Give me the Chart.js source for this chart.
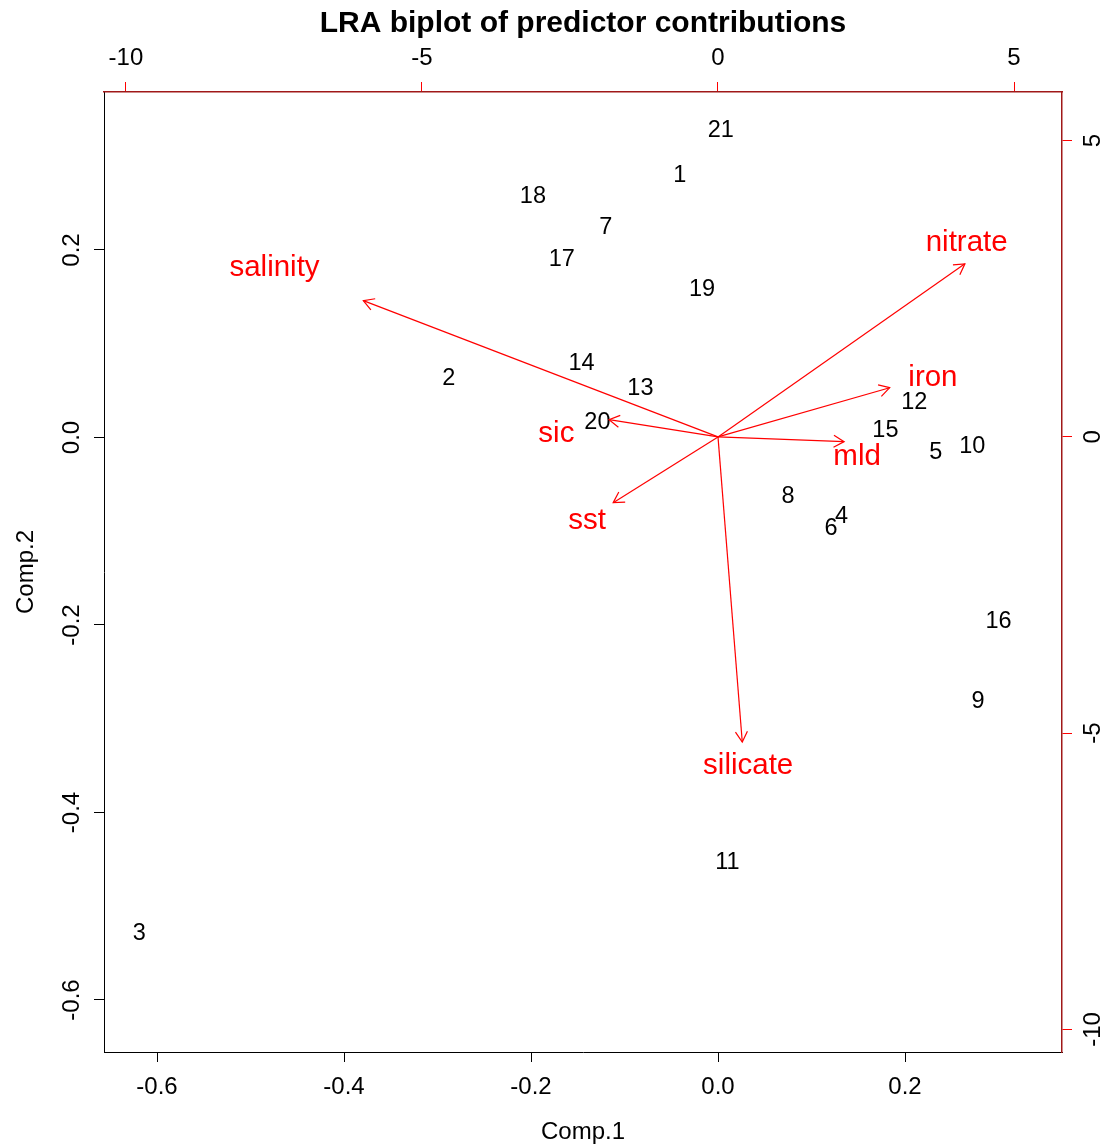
<!DOCTYPE html>
<html lang="en">
<head>
  <meta charset="UTF-8" />
  <title>LRA biplot of predictor contributions</title>
  <script src="https://cdn.jsdelivr.net/npm/chart.js"></script>
  <style>
    html, body { margin: 0; padding: 0; background: #fff; }
  </style>
</head>
<body>
  <canvas id="biplot" width="1116" height="1147"></canvas>

  <script>
    // sample scores (Comp.1 / Comp.2), labelled 1..21
    const sampleLabels = ['1','2','3','4','5','6','7','8','9','10','11','12','13','14','15','16','17','18','19','20','21'];
    const comp1 = [-0.041, -0.288, -0.619, 0.132, 0.233, 0.121, -0.120, 0.075, 0.278, 0.272, 0.010,
                   0.210, -0.083, -0.146, 0.179, 0.300, -0.167, -0.198, -0.017, -0.129, 0.003];
    const comp2 = [0.280, 0.064, -0.528, -0.083, -0.015, -0.096, 0.225, -0.062, -0.281, -0.009, -0.452,
                   0.038, 0.053, 0.080, 0.008, -0.195, 0.191, 0.258, 0.159, 0.017, 0.328];

    // predictor loadings (top / right scale)
    const predictors = ['salinity', 'nitrate', 'iron', 'mld', 'sic', 'sst', 'silicate'];
    const arrowX = [-5.99, 4.17, 2.90, 2.13, -1.84, -1.77, 0.41];
    const arrowY = [2.30, 2.92, 0.83, -0.08, 0.29, -1.11, -5.15];
    const predLabelX = [-7.49, 4.20, 3.63, 2.35, -2.73, -2.21, 0.51];
    const predLabelY = [2.87, 3.29, 1.01, -0.32, 0.07, -1.40, -5.54];

    const comp1Ticks = [-0.6, -0.4, -0.2, 0.0, 0.2];
    const comp2Ticks = [-0.6, -0.4, -0.2, 0.0, 0.2];
    const loadTicks = [-10, -5, 0, 5];

    const FONT = '"Liberation Sans", Arial, sans-serif';
    const RED = '#ff0000';
    const AXIS_RED = '#a01818';

    const datasets = [{
      label: 'samples',
      data: comp1.map((x, i) => ({ x: x, y: comp2[i] })),
      pointRadius: 0,
      xAxisID: 'x',
      yAxisID: 'y'
    }];
    predictors.forEach((p, i) => {
      datasets.push({
        label: p,
        data: [{ x: 0, y: 0 }, { x: arrowX[i], y: arrowY[i] }],
        showLine: true,
        borderColor: RED,
        borderWidth: 1.2,
        pointRadius: 0,
        xAxisID: 'x2',
        yAxisID: 'y2'
      });
    });
    datasets.push({
      label: 'predictor labels',
      data: predLabelX.map((x, i) => ({ x: x, y: predLabelY[i] })),
      pointRadius: 0,
      xAxisID: 'x2',
      yAxisID: 'y2'
    });

    const biplotText = {
      id: 'biplotText',
      afterDatasetsDraw(chart) {
        const ctx = chart.ctx;
        ctx.save();
        ctx.textAlign = 'center';
        ctx.textBaseline = 'middle';

        // sample numbers
        ctx.fillStyle = '#000';
        ctx.font = '23.5px ' + FONT;
        chart.getDatasetMeta(0).data.forEach((pt, i) => {
          ctx.fillText(sampleLabels[i], pt.x, pt.y + 1);
        });

        // arrow heads
        ctx.strokeStyle = RED;
        ctx.lineWidth = 1.2;
        predictors.forEach((p, i) => {
          const pts = chart.getDatasetMeta(i + 1).data;
          const a = pts[0], b = pts[1];
          const ang = Math.atan2(b.y - a.y, b.x - a.x);
          const len = 12;
          ctx.beginPath();
          ctx.moveTo(b.x - len * Math.cos(ang - Math.PI / 6), b.y - len * Math.sin(ang - Math.PI / 6));
          ctx.lineTo(b.x, b.y);
          ctx.lineTo(b.x - len * Math.cos(ang + Math.PI / 6), b.y - len * Math.sin(ang + Math.PI / 6));
          ctx.stroke();
        });

        // predictor names
        ctx.fillStyle = RED;
        ctx.font = '29.5px ' + FONT;
        chart.getDatasetMeta(predictors.length + 1).data.forEach((pt, i) => {
          ctx.fillText(predictors[i], pt.x, pt.y + 1);
        });
        ctx.restore();
      },
      afterDraw(chart) {
        // rotated tick labels on the vertical axes
        const ctx = chart.ctx;
        const y = chart.scales.y, y2 = chart.scales.y2;
        ctx.save();
        ctx.fillStyle = '#000';
        ctx.font = '24px ' + FONT;
        ctx.textAlign = 'center';
        ctx.textBaseline = 'middle';
        comp2Ticks.forEach(v => {
          ctx.save();
          ctx.translate(y.right - 32, y.getPixelForValue(v));
          ctx.rotate(-Math.PI / 2);
          ctx.fillText(v.toFixed(1), 0, 0);
          ctx.restore();
        });
        loadTicks.forEach(v => {
          ctx.save();
          ctx.translate(y2.left + 31, y2.getPixelForValue(v));
          ctx.rotate(-Math.PI / 2);
          ctx.fillText(String(v), 0, 0);
          ctx.restore();
        });
        ctx.restore();
      }
    };

    function gridOpts(color) {
      return { drawOnChartArea: false, drawTicks: true, tickLength: 10, tickColor: color, lineWidth: 1 };
    }

    new Chart(document.getElementById('biplot'), {
      type: 'scatter',
      data: { datasets: datasets },
      options: {
        responsive: false,
        animation: false,
        devicePixelRatio: 1,
        layout: { padding: 0 },
        plugins: {
          legend: { display: false },
          tooltip: { enabled: false },
          title: {
            display: true,
            fullSize: false,
            text: 'LRA biplot of predictor contributions',
            color: '#000',
            font: { family: FONT, size: 30, weight: 'bold', lineHeight: 1.2 },
            padding: { top: 6, bottom: 0 }
          }
        },
        scales: {
          x: {
            type: 'linear',
            position: 'bottom',
            min: -0.6567,
            max: 0.3679,
            afterBuildTicks: s => { s.ticks = comp1Ticks.map(v => ({ value: v })); },
            afterFit: s => { s.height = 95; },
            grid: gridOpts('#000'),
            border: { display: true, color: '#000', width: 1 },
            ticks: {
              color: '#000',
              font: { family: FONT, size: 24 },
              padding: 11,
              maxRotation: 0,
              callback: v => v.toFixed(1)
            },
            title: {
              display: true,
              text: 'Comp.1',
              color: '#000',
              font: { family: FONT, size: 24 },
              padding: { top: 0, bottom: 0 }
            }
          },
          y: {
            type: 'linear',
            position: 'left',
            min: -0.6555,
            max: 0.3685,
            afterBuildTicks: s => { s.ticks = comp2Ticks.map(v => ({ value: v })); },
            afterFit: s => { s.width = 104; },
            grid: gridOpts('#000'),
            border: { display: true, color: '#000', width: 1 },
            ticks: { display: false },
            title: {
              display: true,
              text: 'Comp.2',
              color: '#000',
              font: { family: FONT, size: 24 },
              padding: { top: 12, bottom: 0 }
            }
          },
          x2: {
            type: 'linear',
            position: 'top',
            min: -10.37,
            max: 5.81,
            afterBuildTicks: s => { s.ticks = loadTicks.map(v => ({ value: v })); },
            afterFit: s => { s.height = 50; },
            grid: gridOpts(RED),
            border: { display: true, color: AXIS_RED, width: 1.5 },
            ticks: {
              color: '#000',
              font: { family: FONT, size: 24 },
              padding: 9,
              maxRotation: 0,
              callback: v => String(v)
            }
          },
          y2: {
            type: 'linear',
            position: 'right',
            min: -10.38,
            max: 5.82,
            afterBuildTicks: s => { s.ticks = loadTicks.map(v => ({ value: v })); },
            afterFit: s => { s.width = 54; },
            grid: gridOpts(RED),
            border: { display: true, color: AXIS_RED, width: 1.5 },
            ticks: { display: false }
          }
        }
      },
      plugins: [biplotText]
    });
  </script>
</body>
</html>
